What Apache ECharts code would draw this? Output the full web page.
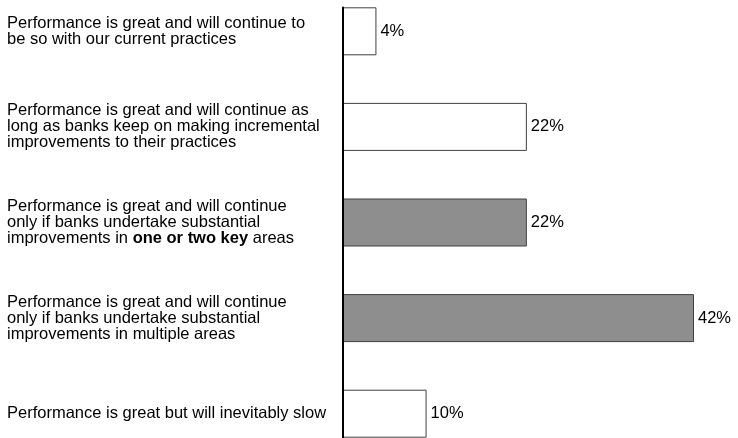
<!DOCTYPE html>
<html>
<head>
<meta charset="utf-8">
<script src="https://cdn.jsdelivr.net/npm/echarts@6/dist/echarts.min.js"></script>
<style>
  html, body { margin: 0; padding: 0; background: #ffffff; }
  #chart { width: 738px; height: 438px; }
</style>
</head>
<body>
<div id="chart"></div>
<script>
// Survey answers, listed top to bottom
const categories = [
  'Performance is great and will continue to\nbe so with our current practices',
  'Performance is great and will continue as\nlong as banks keep on making incremental\nimprovements to their practices',
  'Performance is great and will continue\nonly if banks undertake substantial\nimprovements in one or two key areas',
  'Performance is great and will continue\nonly if banks undertake substantial\nimprovements in multiple areas',
  'Performance is great but will inevitably slow'
];
// Phrase set in bold inside each answer ('' = none)
const boldPhrases = ['', '', 'one or two key', '', ''];
// Share of respondents, percent
const shares = [4, 22, 22, 42, 10];
// Highlighted answers get a grey fill
const highlighted = [false, false, true, true, false];

const chart = echarts.init(document.getElementById('chart'), null, { renderer: 'canvas' });

const FONT = 'Liberation Sans, Arial, sans-serif';
const catFont = { fontFamily: FONT, fontSize: 16.5, color: '#000000' };
const valFont = { fontFamily: FONT, fontSize: 16.5, color: '#000000' };

const option = {
  animation: false,
  backgroundColor: '#ffffff',
  grid: [
    { left: 343, top: -16.5, width: 351, height: 478, outerBoundsMode: 'none', containLabel: false },
    { left: 343, top: 7.5, width: 351, height: 431, outerBoundsMode: 'none', containLabel: false }
  ],
  xAxis: [
    { gridIndex: 0, type: 'value', min: 0, max: 42, show: false },
    { gridIndex: 1, type: 'value', min: 0, max: 42, show: false }
  ],
  yAxis: [
    {
      gridIndex: 0,
      type: 'category',
      data: categories,
      inverse: true,
      axisLine: { show: false },
      axisTick: { show: false },
      splitLine: { show: false },
      axisLabel: Object.assign({
        align: 'left',
        verticalAlign: 'middle',
        margin: 336,
        lineHeight: 16,
        formatter: function (value, idx) {
          const phrase = boldPhrases[idx];
          if (!phrase) return value;
          return value.replace(phrase, '{b|' + phrase + '}');
        },
        rich: {
          b: Object.assign({ fontWeight: 'bold', lineHeight: 16 }, catFont)
        }
      }, catFont)
    },
    {
      gridIndex: 1,
      type: 'category',
      data: [''],
      z: 5,
      axisLine: { show: true, lineStyle: { color: '#000000', width: 2 } },
      axisTick: { show: false },
      axisLabel: { show: false },
      splitLine: { show: false }
    }
  ],
  series: [
    {
      type: 'bar',
      xAxisIndex: 0,
      yAxisIndex: 0,
      barWidth: 48,
      data: shares.map(function (v, i) {
        return { value: v, itemStyle: { color: highlighted[i] ? '#8e8e8e' : '#ffffff' } };
      }),
      itemStyle: { borderColor: '#404040', borderWidth: 1 },
      label: Object.assign({
        show: true,
        position: 'right',
        distance: 4,
        formatter: '{c}%'
      }, valFont)
    }
  ]
};

chart.setOption(option);
</script>
</body>
</html>
